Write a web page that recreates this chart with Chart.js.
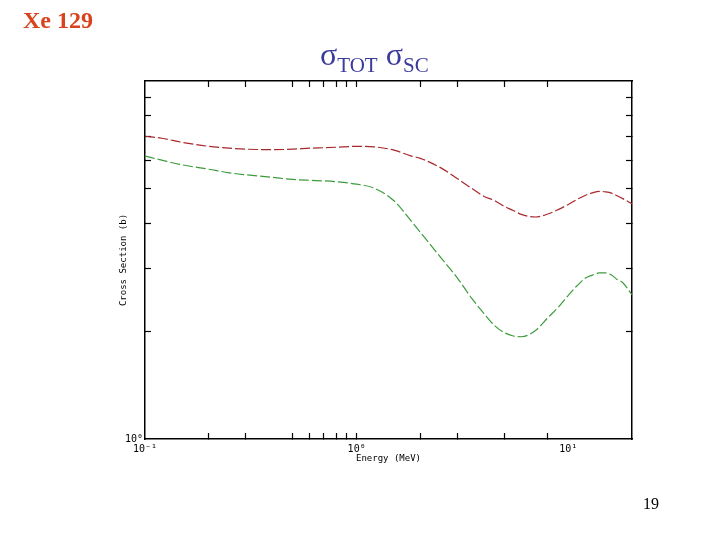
<!DOCTYPE html>
<html>
<head>
<meta charset="utf-8">
<script src="https://cdn.jsdelivr.net/npm/chart.js@4/dist/chart.umd.min.js"></script>
<style>
  body { margin: 0; background: #fff; }
  #wrap { position: relative; width: 720px; height: 540px; overflow: hidden; }
  canvas { position: absolute; left: 0; top: 0; }
  .txt { position: absolute; font-family: "Liberation Serif", "Times New Roman", serif; white-space: nowrap; }
  #xe { left: 23px; top: 4px; font-size: 24px; font-weight: bold; color: #d9431e; line-height: 32px; }
  #sig { left: 320px; top: 38px; font-size: 32px; color: #3b3b9b; line-height: 32px; }
  #sig .sub { font-size: 21px; position: relative; top: 7px; }
  #page { left: 643px; top: 494px; font-size: 16px; color: #000; line-height: 20px; }
</style>
</head>
<body>
<div id="wrap">
  <canvas id="canvas" width="720" height="540"></canvas>
  <div class="txt" id="xe">Xe 129</div>
  <div class="txt" id="sig">σ<span class="sub">TOT</span> σ<span class="sub">SC</span></div>
  <div class="txt" id="page">19</div>
</div>
<script>
// energies (MeV) and cross sections (b)
var energies = [0.1, 0.12, 0.15, 0.2, 0.25, 0.3, 0.4, 0.5, 0.6, 0.7, 0.8, 1.0, 1.2, 1.5, 1.8, 2, 2.5, 3, 3.5, 4, 4.5, 5, 5.5, 6, 7, 8, 9, 10, 11, 12, 13, 14, 15, 16, 17, 18, 20];
var sigmaTot = [7.01, 6.92, 6.74, 6.57, 6.49, 6.45, 6.43, 6.45, 6.49, 6.51, 6.53, 6.57, 6.55, 6.41, 6.18, 6.08, 5.72, 5.33, 5.01, 4.76, 4.63, 4.46, 4.35, 4.24, 4.17, 4.25, 4.38, 4.52, 4.67, 4.79, 4.87, 4.92, 4.90, 4.86, 4.78, 4.70, 4.54];
var sigmaSc = [6.17, 6.01, 5.83, 5.67, 5.54, 5.47, 5.38, 5.31, 5.28, 5.26, 5.23, 5.15, 5.03, 4.63, 4.08, 3.78, 3.21, 2.81, 2.47, 2.24, 2.07, 1.98, 1.94, 1.93, 2.01, 2.18, 2.34, 2.52, 2.68, 2.81, 2.87, 2.91, 2.91, 2.87, 2.79, 2.74, 2.53];

var xTicks = [0.1, 0.2, 0.3, 0.5, 0.6, 0.7, 0.8, 0.9, 1, 2, 3, 5, 8, 10];
var xLabelValues = [0.1, 1, 10];
var xLabelText = ['10\u207B\u00B9', '10\u2070', '10\u00B9'];
var yTicks = [1, 2, 3, 4, 5, 6, 7, 8, 9, 10];
var yLabelValues = [1];
var yLabelText = ['10\u2070'];

function pairs(xs, ys) {
  return xs.map(function(x, i) { return {x: x, y: ys[i]}; });
}

var smallFont = {family: 'DejaVu Sans Mono', size: 9};
var tickFont = {family: 'DejaVu Sans Mono', size: 10};
var clear = 'rgba(0,0,0,0)';

function tickMark(ctx) {
  // no mark on the decade labels at the frame edges / 10 MeV
  if (ctx.tick && (ctx.tick.value === 10 || ctx.tick.value === 0.1 || ctx.tick.value === 1 && ctx.scale.axis === 'y')) return clear;
  return '#000';
}

var config = {
  type: 'line',
  data: {
    datasets: [{
      label: 'total',
      data: pairs(energies, sigmaTot),
      borderColor: '#a8282c',
      borderWidth: 1.2,
      borderDash: [10, 3],
      pointRadius: 0,
      fill: false,
      cubicInterpolationMode: 'monotone',
      xAxisID: 'x',
      yAxisID: 'y'
    }, {
      label: 'scattering',
      data: pairs(energies, sigmaSc),
      borderColor: '#3c9c3c',
      borderWidth: 1.2,
      borderDash: [10, 3],
      pointRadius: 0,
      fill: false,
      cubicInterpolationMode: 'monotone',
      xAxisID: 'x',
      yAxisID: 'y'
    }]
  },
  options: {
    responsive: false,
    animation: false,
    layout: {padding: {left: 110, top: 0, right: 0, bottom: 0}},
    plugins: {legend: {display: false}, tooltip: {enabled: false}},
    scales: {
      x: {
        type: 'logarithmic', position: 'bottom', min: 0.1, max: 20,
        afterBuildTicks: function(s) { s.ticks = xTicks.map(function(v) { return {value: v}; }); },
        afterFit: function(s) { s.height = 101; },
        grid: {drawOnChartArea: false, tickLength: -6, tickColor: tickMark, tickWidth: 1.2},
        border: {color: '#000', width: 1.5},
        ticks: {
          autoSkip: false, maxRotation: 0, padding: 10, font: tickFont, color: '#000',
          callback: function(v) { var i = xLabelValues.indexOf(v); return i < 0 ? '' : xLabelText[i]; }
        },
        title: {display: true, text: 'Energy (MeV)', color: '#000', font: smallFont, padding: {top: 0, bottom: 76}}
      },
      x2: {
        type: 'logarithmic', position: 'top', min: 0.1, max: 20,
        afterBuildTicks: function(s) { s.ticks = xTicks.map(function(v) { return {value: v}; }); },
        afterFit: function(s) { s.height = 81; },
        grid: {drawOnChartArea: false, tickLength: -6, tickColor: tickMark, tickWidth: 1.2},
        border: {color: '#000', width: 1.5},
        ticks: {display: false}
      },
      y: {
        type: 'logarithmic', position: 'left', min: 1, max: 10,
        afterBuildTicks: function(s) { s.ticks = yTicks.map(function(v) { return {value: v}; }); },
        afterFit: function(s) { s.width = 35; },
        grid: {drawOnChartArea: false, tickLength: -6, tickColor: tickMark, tickWidth: 1.2},
        border: {color: '#000', width: 1.5},
        ticks: {
          autoSkip: false, padding: 8, font: tickFont, color: '#000',
          callback: function(v) { var i = yLabelValues.indexOf(v); return i < 0 ? '' : yLabelText[i]; }
        },
        title: {display: true, text: 'Cross Section (b)', color: '#000', font: smallFont, padding: {top: 8, bottom: 0}}
      },
      y2: {
        type: 'logarithmic', position: 'right', min: 1, max: 10,
        afterBuildTicks: function(s) { s.ticks = yTicks.map(function(v) { return {value: v}; }); },
        afterFit: function(s) { s.width = 88; },
        grid: {drawOnChartArea: false, tickLength: -6, tickColor: tickMark, tickWidth: 1.2},
        border: {color: '#000', width: 1.5},
        ticks: {display: false}
      }
    }
  }
};

window.onload = function() {
  var ctx = document.getElementById('canvas').getContext('2d');
  window.myLine = new Chart(ctx, config);
};
</script>
</body>
</html>
